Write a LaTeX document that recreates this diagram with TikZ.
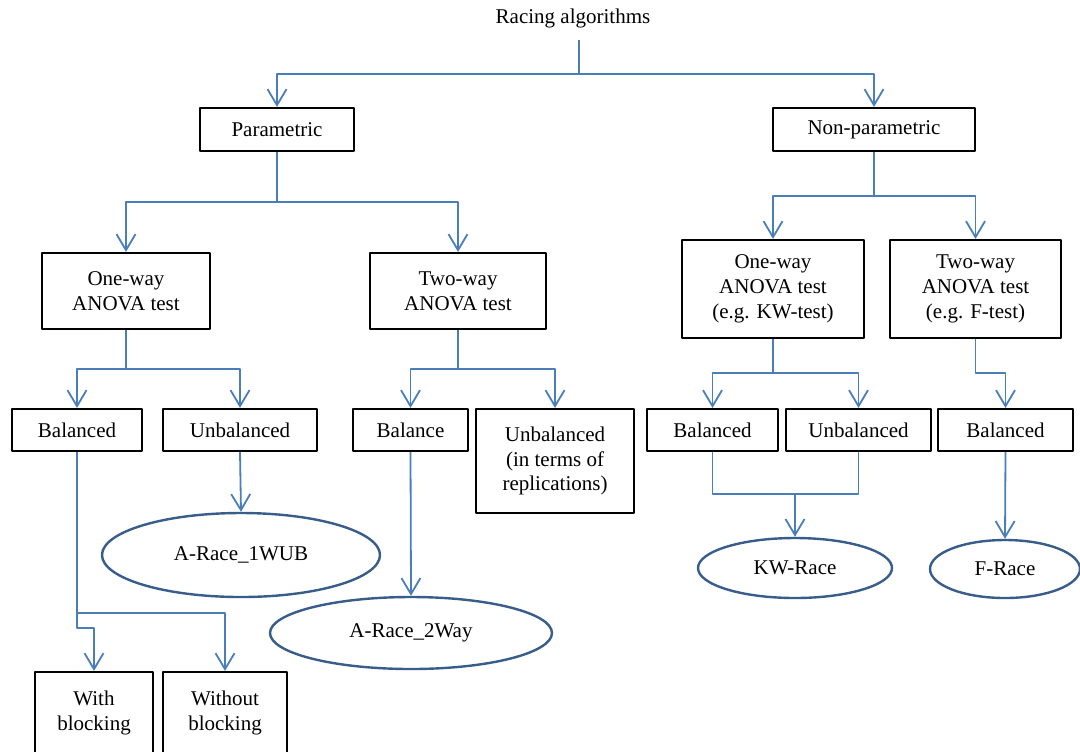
\documentclass[tikz,border=0pt]{standalone}
\usepackage{fontspec}
\setmainfont{Liberation Serif}
\usetikzlibrary{arrows.meta,shapes.geometric}
\definecolor{connblue}{RGB}{74,126,187}
\definecolor{ovalblue}{RGB}{56,93,138}
\begin{document}
\begin{tikzpicture}[x=0.5pt,y=-0.5pt,line join=round,
		font=\fontsize{10.5}{12.4}\selectfont,
		>={Straight Barb[length=8pt,width=9.5pt]},
		box/.style={draw,line width=1.1pt,align=center,inner sep=0pt,minimum height=21pt},
		oval/.style={ellipse,draw=ovalblue,line width=1.2pt,inner sep=0pt},
		conn/.style={draw=connblue,line width=0.9pt}]
	\path[use as bounding box] (0,0) rectangle (1080,751);
	\clip (0,0) rectangle (1080,751);
	% top levels
	\node (title) at (573,18) {Racing algorithms};
	\node[box,minimum width=77pt,minimum height=21.5pt] (para) at (277,129.5) {Parametric};
	\node[box,minimum width=101pt,minimum height=21.5pt] (nonpara) at (874,129.5) {Non-parametric};
	\node[box,minimum width=84pt,minimum height=38pt] (one1) at (126,291) {One-way\\ANOVA test};
	\node[box,minimum width=88pt,minimum height=38pt] (two1) at (458,291) {Two-way\\ANOVA test};
	\node[box,minimum width=91pt,minimum height=49pt] (one2) at (773,289) {One-way\\ANOVA test\\(e.g. KW-test)};
	\node[box,minimum width=85.5pt,minimum height=49pt] (two2) at (975.5,289) {Two-way\\ANOVA test\\(e.g. F-test)};
	% designs
	\node[box,minimum width=65pt] (bal1) at (77,430) {Balanced};
	\node[box,minimum width=77pt] (unb1) at (240,430) {Unbalanced};
	\node[box,minimum width=57.5pt] (bal2) at (410.5,430) {Balance};
	\node[box,minimum width=79pt,minimum height=52pt] (unb2) at (555,461) {Unbalanced\\(in terms of\\replications)};
	\node[box,minimum width=65.5pt] (bal3) at (712.5,430) {Balanced};
	\node[box,minimum width=72.5pt] (unb3) at (858.5,430) {Unbalanced};
	\node[box,minimum width=67.5pt] (bal4) at (1005.5,430) {Balanced};
	\node[box,minimum width=59pt,minimum height=41pt] (with) at (94,713) {With\\blocking};
	\node[box,minimum width=62pt,minimum height=41pt] (without) at (225,713) {Without\\blocking};
	% races
	\node[oval,minimum width=139pt,minimum height=42pt] (r1wub) at (241,555) {A-Race\_1WUB};
	\node[oval,minimum width=141pt,minimum height=36pt] (r2way) at (411,633) {A-Race\_2Way};
	\node[oval,minimum width=97pt,minimum height=30pt] (kwrace) at (795,568) {KW-Race};
	\node[oval,minimum width=75pt,minimum height=29pt] (frace) at (1005,569) {F-Race};
	% junctions
	\coordinate (t0) at (579,40);
	\coordinate (j0) at (579,74);
	\coordinate (j1) at (277,202);
	\coordinate (j2) at (874,196);
	\coordinate (j3) at (126,369);
	\coordinate (j4) at (458,369);
	\coordinate (j5) at (773,373);
	\coordinate (j6) at (975.5,373);
	\coordinate (j7) at (795,494);
	\coordinate (j8) at (77,613);
	\coordinate (j9) at (77,628);
	% connectors
	\draw[conn] (t0)--(j0);
	\draw[conn,->] (j0) -| (para.north);
	\draw[conn,->] (j0) -| (nonpara.north);
	\draw[conn] (para.south)--(j1);
	\draw[conn,->] (j1) -| (one1.north);
	\draw[conn,->] (j1) -| (two1.north);
	\draw[conn] (nonpara.south)--(j2);
	\draw[conn,->] (j2) -| (one2.north);
	\draw[conn,->] (j2) -| (two2.north);
	\draw[conn] (one1.south)--(j3);
	\draw[conn,->] (j3) -| (bal1.north);
	\draw[conn,->] (j3) -| (unb1.north);
	\draw[conn] (two1.south)--(j4);
	\draw[conn,->] (j4) -| (bal2.north);
	\draw[conn,->] (j4) -| (unb2.north);
	\draw[conn] (one2.south)--(j5);
	\draw[conn,->] (j5) -| (bal3.north);
	\draw[conn,->] (j5) -| (unb3.north);
	\draw[conn,->] (two2.south)--(j6) -| (bal4.north);
	\draw[conn,->] (unb1.south)--(r1wub.north);
	\draw[conn,->] (bal2.south)--(r2way.north);
	\draw[conn] (bal3.south) |- (j7) -| (unb3.south);
	\draw[conn,->] (j7)--(kwrace.north);
	\draw[conn,->] (bal4.south)--(frace.north);
	\draw[conn] (bal1.south)--(j8);
	\draw[conn,->] (j8) -| (without.north);
	\draw[conn,->] (j8)--(j9) -| (with.north);
\end{tikzpicture}
\end{document}
